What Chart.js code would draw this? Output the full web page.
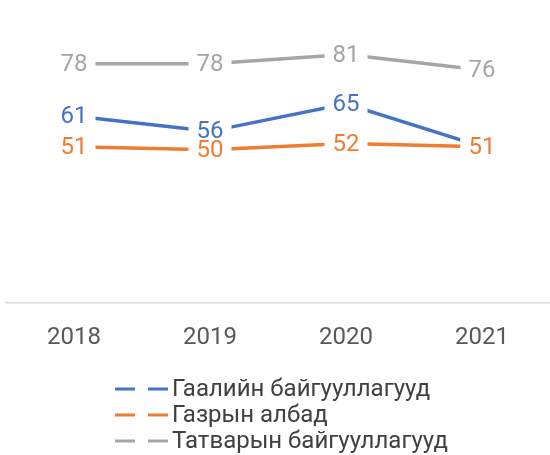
<!DOCTYPE html>
<html>
<head>
<meta charset="utf-8">
<script src="https://cdn.jsdelivr.net/npm/chart.js@4"></script>
<style>
html,body{margin:0;padding:0;background:#fff;}
#wrap{position:relative;width:550px;height:455px;}
</style>
</head>
<body>
<div id="wrap"><canvas id="c" width="550" height="455"></canvas></div>
<script>
const categories = ['2018', '2019', '2020', '2021'];
const seriesNames = ['Гаалийн байгууллагууд', 'Газрын албад', 'Татварын байгууллагууд'];
const customsValues = [61, 56, 65, 51];
const landValues = [51, 50, 52, 51];
const taxValues = [78, 78, 81, 76];
const colors = ['#4472C4', '#ED7D31', '#A5A5A5'];

const FONT = 'Roboto, "Noto Sans", sans-serif';

const labelPlugin = {
  id: 'pointLabels',
  afterDatasetsDraw(chart) {
    const ctx = chart.ctx;
    ctx.save();
    ctx.font = '24px ' + FONT;
    ctx.textAlign = 'center';
    ctx.textBaseline = 'middle';
    chart.data.datasets.forEach((ds, i) => {
      const meta = chart.getDatasetMeta(i);
      meta.data.forEach((pt, j) => {
        const txt = String(ds.data[j]);
        const w = ctx.measureText(txt).width;
        ctx.fillStyle = '#ffffff';
        ctx.fillRect(pt.x - w / 2 - 8, pt.y - 10, w + 16, 21);
        ctx.fillStyle = ds.borderColor;
        ctx.fillText(txt, pt.x, pt.y + 1);
      });
    });
    ctx.restore();
  }
};

const legendPlugin = {
  id: 'vertLegend',
  afterDraw(chart) {
    const ctx = chart.ctx;
    ctx.save();
    ctx.font = '24px ' + FONT;
    ctx.textBaseline = 'middle';
    ctx.textAlign = 'left';
    const rows = [389, 415, 441];
    chart.data.datasets.forEach((ds, i) => {
      const y = rows[i];
      ctx.strokeStyle = ds.borderColor;
      ctx.lineWidth = 3;
      ctx.beginPath();
      ctx.moveTo(115, y); ctx.lineTo(135, y);
      ctx.moveTo(148, y); ctx.lineTo(168, y);
      ctx.stroke();
      ctx.fillStyle = '#404040';
      ctx.fillText(ds.label, 172, y + 1);
    });
    ctx.restore();
  }
};

new Chart(document.getElementById('c'), {
  type: 'line',
  data: {
    labels: categories,
    datasets: [
      { label: seriesNames[0], data: customsValues, borderColor: colors[0], backgroundColor: colors[0] },
      { label: seriesNames[1], data: landValues, borderColor: colors[1], backgroundColor: colors[1] },
      { label: seriesNames[2], data: taxValues, borderColor: colors[2], backgroundColor: colors[2] }
    ]
  },
  options: {
    responsive: false,
    animation: false,
    devicePixelRatio: 1,
    elements: {
      line: { borderWidth: 3.5, tension: 0 },
      point: { radius: 0, hoverRadius: 0 }
    },
    layout: { padding: { left: 6, right: -5, top: 27, bottom: 83 } },
    plugins: { legend: { display: false }, tooltip: { enabled: false } },
    scales: {
      x: {
        offset: true,
        grid: { display: false, drawTicks: false },
        border: { display: true, color: '#D9D9D9', width: 1.5 },
        ticks: { color: '#595959', font: { family: FONT, size: 24 }, padding: 20 }
      },
      y: {
        display: false,
        min: 0,
        max: 90
      }
    }
  },
  plugins: [labelPlugin, legendPlugin]
});
</script>
</body>
</html>
